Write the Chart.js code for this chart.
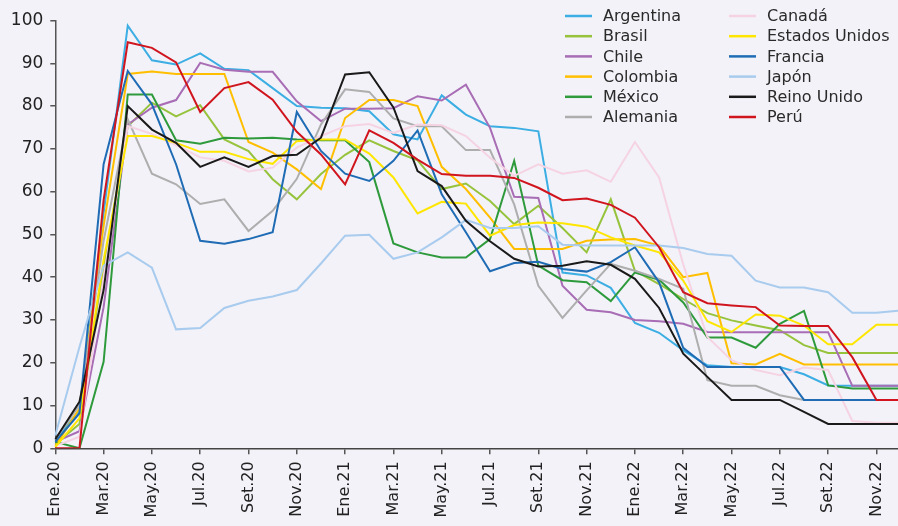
<!DOCTYPE html>
<html>
<head>
<meta charset="utf-8">
<script src="https://cdn.jsdelivr.net/npm/chart.js@4.4.0/dist/chart.umd.min.js"></script>
<style>
html, body { margin: 0; padding: 0; background: #f2f2f8; overflow: hidden; }
#wrap { width: 906px; height: 526px; }
</style>
</head>
<body>
<div id="wrap"><canvas id="grafico" width="906" height="526"></canvas></div>
<script>
// meses (eje x), solo se rotulan los impares: Ene, Mar, May...
var meses = [
  'Ene.20','Feb.20','Mar.20','Abr.20','May.20','Jun.20','Jul.20','Ago.20','Set.20','Oct.20','Nov.20','Dic.20',
  'Ene.21','Feb.21','Mar.21','Abr.21','May.21','Jun.21','Jul.21','Ago.21','Set.21','Oct.21','Nov.21','Dic.21',
  'Ene.22','Feb.22','Mar.22','Abr.22','May.22','Jun.22','Jul.22','Ago.22','Set.22','Oct.22','Nov.22','Dic.22'
];

var argentina = [2, 8.8, 55, 98.8, 90.7, 89.7, 92.3, 88.7, 88.4, 84.2, 80.0, 79.6, 79.5, 78.8, 73.4, 72.2, 82.5, 78.0, 75.3, 74.9, 74.1, 41.1, 40.4, 37.5, 29.3, 27.0, 22.9, 19.4, 19.0, 19.0, 19.0, 17.3, 14.7, 14.6, 14.6, 14.6];
var brasil    = [1, 5.7, 42, 75.3, 80.8, 77.6, 80.2, 72.2, 69.5, 62.9, 58.2, 64.1, 68.6, 72.0, 69.5, 67.3, 60.6, 61.9, 57.8, 52.4, 56.7, 51.5, 45.8, 58.2, 41.5, 38.4, 34.9, 31.6, 29.9, 28.7, 27.6, 24.1, 22.3, 22.3, 22.3, 22.3];
var chile     = [1.5, 4, 33, 75.7, 79.6, 81.4, 90.1, 88.5, 88.0, 88.0, 81.1, 76.5, 79.4, 79.4, 79.5, 82.3, 81.3, 85.0, 74.9, 58.8, 58.5, 38.0, 32.4, 31.8, 30.0, 29.7, 29.1, 27.2, 27.1, 27.1, 27.1, 27.1, 27.1, 14.6, 14.6, 14.6];
var colombia  = [0.5, 9.3, 52, 87.5, 88.1, 87.5, 87.5, 87.5, 71.6, 69.1, 65.2, 60.6, 77.2, 81.4, 81.4, 80.0, 65.8, 60.6, 53.9, 46.6, 46.6, 46.6, 48.5, 48.8, 48.9, 47.4, 40.0, 41.0, 19.9, 19.6, 22.1, 19.6, 19.6, 19.6, 19.6, 19.6];
var mexico    = [1.5, 0, 20.2, 82.7, 82.7, 72.0, 71.2, 72.6, 72.4, 72.6, 72.2, 72.0, 72.0, 66.9, 47.9, 45.8, 44.6, 44.6, 48.9, 67.2, 42.7, 39.3, 38.8, 34.4, 41.1, 39.4, 34.1, 25.9, 25.9, 23.5, 29.1, 32.1, 14.7, 14.0, 14.0, 14.0];
var alemania  = [2, 10.1, 48.5, 76.9, 64.2, 61.7, 57.1, 58.2, 50.8, 55.5, 63.0, 75.7, 83.9, 83.3, 77.1, 75.3, 75.3, 69.7, 69.7, 57.0, 38.0, 30.5, 36.9, 43.1, 41.5, 39.6, 37.3, 15.9, 14.6, 14.6, 12.4, 11.3, 11.3, 11.3, 11.3, 11.3];
var canada    = [0.5, 2.7, 40, 75.3, 73.5, 70.9, 68.0, 67.2, 64.7, 65.6, 70.3, 73.0, 75.3, 75.8, 73.7, 75.7, 75.5, 73.0, 67.9, 63.7, 66.4, 64.2, 65.0, 62.3, 71.6, 63.3, 43.0, 26.0, 20.6, 18.3, 17.1, 18.9, 18.3, 6.4, 6.0, 6.0];
var eeuu      = [0.3, 7.0, 44, 73.0, 73.0, 71.4, 69.3, 69.3, 67.6, 66.5, 71.8, 72.2, 72.2, 68.9, 63.3, 54.9, 57.6, 57.2, 49.7, 52.2, 52.8, 52.6, 51.8, 49.3, 47.4, 45.8, 39.2, 29.7, 27.2, 31.3, 31.0, 28.7, 24.3, 24.3, 28.9, 28.9];
var francia   = [1.5, 8.2, 66.4, 88.2, 80.4, 66.4, 48.5, 47.8, 48.9, 50.5, 78.6, 69.5, 64.2, 62.5, 67.2, 74.3, 59.4, 50.5, 41.4, 43.3, 43.6, 41.9, 41.3, 43.5, 47.0, 38.8, 23.5, 19.0, 19.0, 19.0, 19.0, 11.3, 11.3, 11.3, 11.3, 11.3];
var japon     = [3, 23.7, 42.7, 45.8, 42.2, 27.8, 28.1, 32.8, 34.5, 35.5, 37.0, 43.2, 49.7, 49.9, 44.3, 45.8, 49.3, 53.4, 51.5, 51.5, 51.9, 47.6, 47.4, 47.4, 47.4, 47.4, 46.8, 45.4, 45.0, 39.2, 37.6, 37.6, 36.5, 31.7, 31.7, 32.2];
var reinoUnido = [2.1, 10.9, 37, 80.0, 74.5, 71.4, 65.8, 68.0, 65.8, 68.3, 68.6, 72.6, 87.4, 87.9, 79.7, 64.8, 61.3, 53.2, 48.4, 44.3, 42.5, 42.7, 43.7, 42.9, 39.6, 32.8, 22.1, 16.7, 11.3, 11.3, 11.3, 8.5, 5.7, 5.7, 5.7, 5.7];
var peru      = [0, 0, 58, 94.9, 93.6, 90.2, 78.6, 84.2, 85.6, 81.5, 74.0, 68.7, 61.7, 74.3, 71.4, 67.5, 64.1, 63.7, 63.7, 63.2, 60.9, 58.0, 58.4, 56.9, 53.9, 47.0, 36.5, 33.9, 33.4, 33.0, 28.7, 28.6, 28.6, 21.3, 11.3, 11.3];

var paises = ['Argentina', 'Brasil', 'Chile', 'Colombia', 'México', 'Alemania',
              'Canadá', 'Estados Unidos', 'Francia', 'Japón', 'Reino Unido', 'Perú'];
var series = [argentina, brasil, chile, colombia, mexico, alemania,
              canada, eeuu, francia, japon, reinoUnido, peru];
var colores = ['#3caee3', '#97c33c', '#a86db5', '#ffbf00', '#2e9a3c', '#aeaeae',
               '#f6d3e3', '#ffe600', '#1f6cb5', '#a8cbee', '#1a1a1a', '#d0151e'];

var fuente = '"DejaVu Sans", sans-serif';

var datasets = [];
for (var i in series) {
  datasets.push({
    label: paises[i],
    data: series[i],
    borderColor: colores[i],
    backgroundColor: colores[i],
    borderWidth: 2,
    pointRadius: 0,
    tension: 0,
    fill: false,
    order: series.length - i   // el último país queda encima
  });
}

// leyenda en dos columnas dentro del gráfico
var leyenda = {
  id: 'leyenda',
  afterDraw: function(chart) {
    var ctx = chart.ctx;
    ctx.save();
    ctx.font = '16px ' + fuente;
    ctx.textBaseline = 'middle';
    for (var k = 0; k < paises.length; k++) {
      var x0 = k < 6 ? 565 : 729;
      var y = 16 + (k % 6) * 20.2;
      ctx.strokeStyle = colores[k];
      ctx.lineWidth = 2.5;
      ctx.beginPath();
      ctx.moveTo(x0, y);
      ctx.lineTo(x0 + 27, y);
      ctx.stroke();
      ctx.fillStyle = '#2a2a2a';
      ctx.fillText(paises[k], x0 + 38, y + 1);
    }
    ctx.restore();
  }
};

var ctx = document.getElementById('grafico').getContext('2d');
new Chart(ctx, {
  type: 'line',
  data: { labels: meses, datasets: datasets },
  options: {
    responsive: false,
    animation: false,
    devicePixelRatio: 1,
    layout: { padding: { top: 20.5, right: 5.4, left: 0, bottom: 0 } },
    plugins: { legend: { display: false }, tooltip: { enabled: false } },
    scales: {
      x: {
        afterFit: function(s) { s.height = 77.7; },
        border: { display: true, color: '#444', width: 1.5 },
        grid: { drawOnChartArea: false, drawTicks: true, tickLength: 6, color: '#555', lineWidth: 1.5 },
        ticks: {
          autoSkip: false,
          maxRotation: 90,
          minRotation: 90,
          padding: 7,
          color: '#222',
          font: { family: fuente, size: 16 },
          callback: function(v, idx) { return idx % 2 === 0 ? meses[idx] : null; }
        }
      },
      y: {
        min: 0,
        max: 100,
        afterFit: function(s) { s.width = 55.3; },
        border: { display: true, color: '#555', width: 1.5 },
        grid: { drawOnChartArea: false, drawTicks: true, tickLength: 5, color: '#555', lineWidth: 1.5 },
        ticks: {
          stepSize: 10,
          padding: 7,
          color: '#222',
          font: { family: fuente, size: 17 }
        }
      }
    }
  },
  plugins: [leyenda]
});
</script>
</body>
</html>
